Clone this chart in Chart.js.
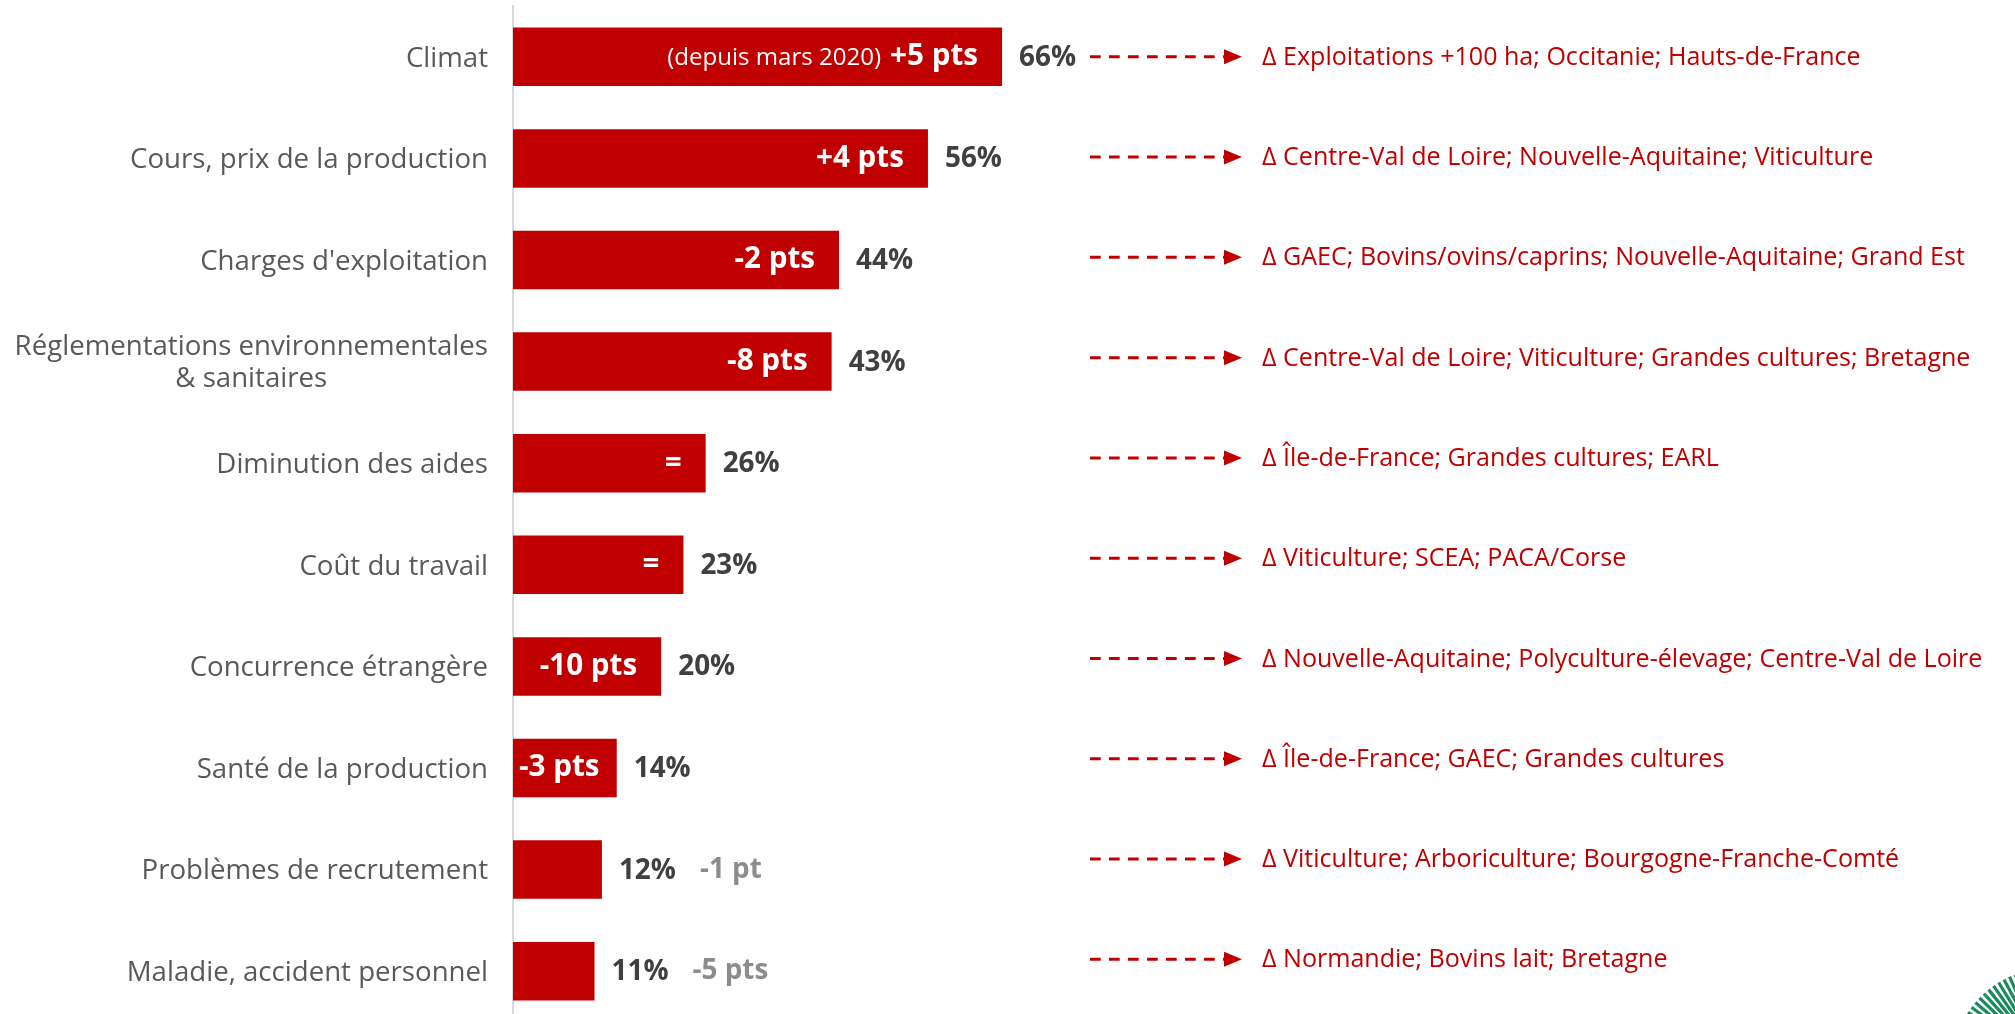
<!DOCTYPE html>
<html>
<head>
<meta charset="utf-8">
<script src="https://cdn.jsdelivr.net/npm/chart.js@4.4.1/dist/chart.umd.min.js"></script>
<style>
  html, body { margin: 0; padding: 0; background: #ffffff; overflow: hidden; }
  #wrap { position: relative; width: 2015px; height: 1030px; }
</style>
</head>
<body>
<div id="wrap"><canvas id="chart"></canvas></div>
<script>
// ---- data ----
const categories = [
  'Climat',
  'Cours, prix de la production',
  "Charges d'exploitation",
  ['Réglementations environnementales', '& sanitaires'],
  'Diminution des aides',
  'Coût du travail',
  'Concurrence étrangère',
  'Santé de la production',
  'Problèmes de recrutement',
  'Maladie, accident personnel'
];
const values = [66, 56, 44, 43, 26, 23, 20, 14, 12, 11];
const changes = ['+5 pts', '+4 pts', '-2 pts', '-8 pts', '=', '=', '-10 pts', '-3 pts', '-1 pt', '-5 pts'];
const changeInBar = [true, true, true, true, true, true, true, true, false, false];
const changeNotes = ['(depuis mars 2020)', '', '', '', '', '', '', '', '', ''];
const highlights = [
  'Δ Exploitations +100 ha; Occitanie; Hauts-de-France',
  'Δ Centre-Val de Loire; Nouvelle-Aquitaine; Viticulture',
  'Δ GAEC; Bovins/ovins/caprins; Nouvelle-Aquitaine; Grand Est',
  'Δ Centre-Val de Loire; Viticulture; Grandes cultures; Bretagne',
  'Δ Île-de-France; Grandes cultures; EARL',
  'Δ Viticulture; SCEA; PACA/Corse',
  'Δ Nouvelle-Aquitaine; Polyculture-élevage; Centre-Val de Loire',
  'Δ Île-de-France; GAEC; Grandes cultures',
  'Δ Viticulture; Arboriculture; Bourgogne-Franche-Comté',
  'Δ Normandie; Bovins lait; Bretagne'
];

// ---- styles ----
const RED = '#c00000';
const FAMILY = "'Open Sans', sans-serif";

const overlay = {
  id: 'overlay',
  afterDatasetsDraw(chart) {
    const ctx = chart.ctx;
    const meta = chart.getDatasetMeta(0);
    const area = chart.chartArea;
    const fit = (w, txt, target) => {
      ctx.font = `${w} 100px ${FAMILY}`;
      return 100 * target / ctx.measureText(txt).width;
    };
    const catSize = fit(400, 'Cours, prix de la production', 358);
    const noteSize = fit(400, 'Δ Exploitations +100 ha; Occitanie; Hauts-de-France', 599);
    const valSize = fit(700, '66%', 57);
    const inSize = fit(700, '+5 pts', 88);
    const subSize = fit(400, '(depuis mars 2020)', 214);

    ctx.save();
    ctx.textBaseline = 'middle';
    const y0 = meta.data[0].y;

    meta.data.forEach((bar, i) => {
      const y = bar.y;
      const xEnd = bar.x;
      const xBase = bar.base;

      // category label (block right-aligned, lines centred)
      ctx.font = `400 ${catSize}px ${FAMILY}`;
      ctx.fillStyle = '#595959';
      ctx.textAlign = 'center';
      const lines = [].concat(categories[i]);
      const maxW = Math.max(...lines.map(l => ctx.measureText(l).width));
      const cx = area.left - 25 - maxW / 2;
      lines.forEach((l, k) => ctx.fillText(l, cx, y + 2 + (k - (lines.length - 1) / 2) * 32));

      // change inside bar
      if (changeInBar[i]) {
        ctx.font = `700 ${inSize}px ${FAMILY}`;
        ctx.fillStyle = '#ffffff';
        ctx.textAlign = 'left';
        const w = ctx.measureText(changes[i]).width;
        let left = xEnd - 24 - w;
        if (left < xBase + 6) left = xBase + 6;
        ctx.fillText(changes[i], left, y);
        if (changeNotes[i]) {
          ctx.font = `400 ${subSize}px ${FAMILY}`;
          ctx.textAlign = 'right';
          ctx.fillText(changeNotes[i], left - 9, y + 1);
        }
      }

      // value label
      ctx.font = `700 ${valSize}px ${FAMILY}`;
      ctx.fillStyle = '#404040';
      ctx.textAlign = 'left';
      const vTxt = values[i] + '%';
      const vx = xEnd + 17;
      ctx.fillText(vTxt, vx, y + 1);
      if (!changeInBar[i]) {
        const vw = ctx.measureText(vTxt).width;
        ctx.fillStyle = '#8c8c8c';
        ctx.fillText(changes[i], vx + vw + 24, y);
      }

      // arrow + highlight text
      const ay = y0 + (y - y0) * 0.987;
      ctx.strokeStyle = RED;
      ctx.lineWidth = 3;
      ctx.setLineDash([10.7, 8.3]);
      ctx.beginPath();
      ctx.moveTo(1090, ay);
      ctx.lineTo(1228, ay);
      ctx.stroke();
      ctx.setLineDash([]);
      ctx.fillStyle = RED;
      ctx.beginPath();
      ctx.moveTo(1224, ay - 7.5);
      ctx.lineTo(1242, ay);
      ctx.lineTo(1224, ay + 7.5);
      ctx.closePath();
      ctx.fill();
      ctx.font = `400 ${noteSize}px ${FAMILY}`;
      ctx.textAlign = 'left';
      ctx.fillText(highlights[i], 1262, ay + 1);
    });

    // partial green logo in the corner
    ctx.strokeStyle = '#1b8a5e';
    ctx.lineCap = 'butt';
    for (let a = 206; a <= 262; a += 3.6) {
      const r = a * Math.PI / 180;
      ctx.lineWidth = 3.2;
      ctx.beginPath();
      ctx.moveTo(2050 + Math.cos(r) * 45, 1066 + Math.sin(r) * 45);
      ctx.lineTo(2050 + Math.cos(r) * 98, 1066 + Math.sin(r) * 98);
      ctx.stroke();
    }
    ctx.restore();
  }
};

new Chart(document.getElementById('chart'), {
  type: 'bar',
  data: {
    labels: categories,
    datasets: [{
      data: values,
      backgroundColor: RED,
      borderWidth: 0,
      categoryPercentage: 1,
      barPercentage: 0.576
    }]
  },
  options: {
    indexAxis: 'y',
    responsive: true,
    maintainAspectRatio: false,
    animation: false,
    layout: { padding: { top: 6, bottom: 8, left: 0, right: 20 } },
    plugins: { legend: { display: false }, tooltip: { enabled: false } },
    scales: {
      x: { type: 'linear', min: 0, max: 200, display: false },
      y: {
        grid: { display: false },
        border: { display: true, color: '#d9d9d9', width: 2 },
        ticks: { display: false },
        afterFit(scale) { scale.width = 513; }
      }
    }
  },
  plugins: [overlay]
});
</script>
</body>
</html>
